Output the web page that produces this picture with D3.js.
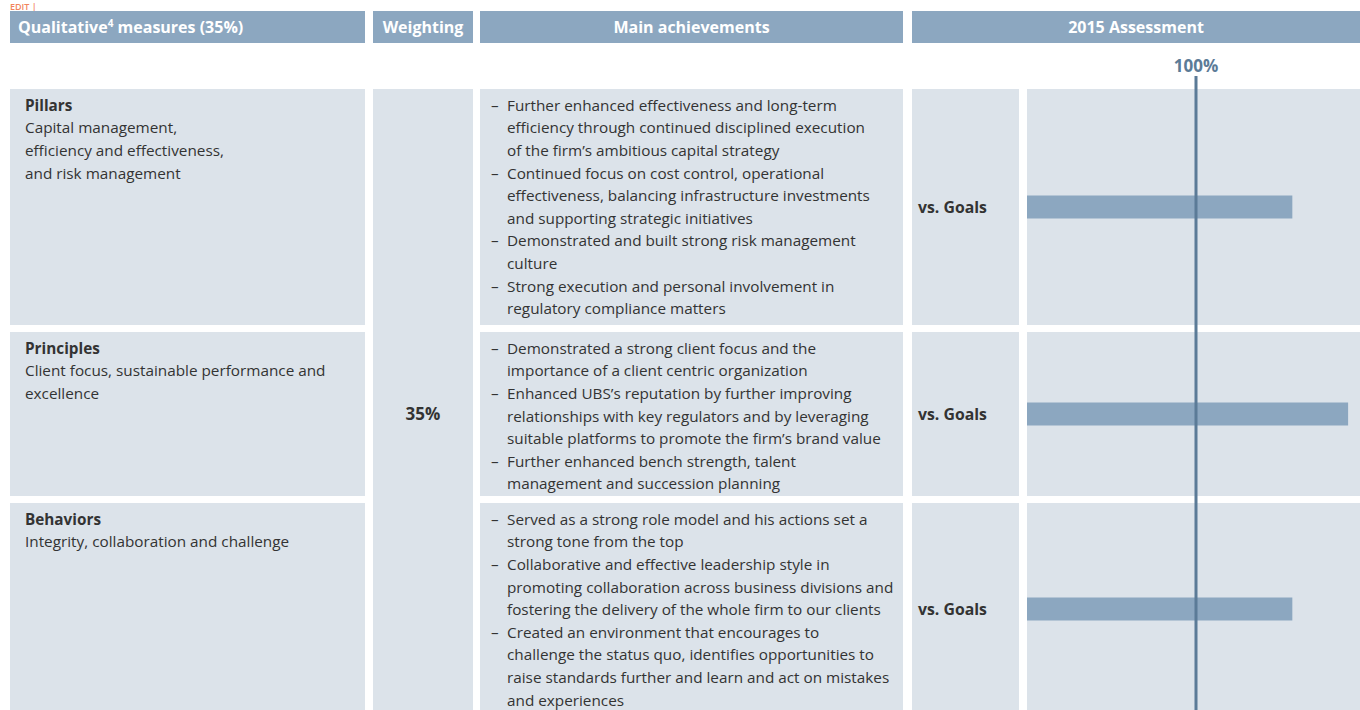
<!DOCTYPE html>
<html><head><meta charset="utf-8">
<script src="https://cdn.jsdelivr.net/npm/d3@7"></script>
<style>
html,body{margin:0;padding:0;background:#fff;overflow:hidden}
svg{display:block;font-family:"Open Sans",sans-serif}
</style></head>
<body><svg id="c" width="1360" height="710"></svg>
<script>
// ---- data ----
const headers = ["Qualitative\u2074 measures (35%)", "Weighting", "Main achievements", "2015 Assessment"];
const categories = ["Pillars", "Principles", "Behaviors"];
const descriptions = [
  ["Capital management,", "efficiency and effectiveness,", "and risk management"],
  ["Client focus, sustainable performance and", "excellence"],
  ["Integrity, collaboration and challenge"]
];
const achievements = [
  [
    ["Further enhanced effectiveness and long-term", "efficiency through continued disciplined execution", "of the firm\u2019s ambitious capital strategy"],
    ["Continued focus on cost control, operational", "effectiveness, balancing infrastructure investments", "and supporting strategic initiatives"],
    ["Demonstrated and built strong risk management", "culture"],
    ["Strong execution and personal involvement in", "regulatory compliance matters"]
  ],
  [
    ["Demonstrated a strong client focus and the", "importance of a client centric organization"],
    ["Enhanced UBS\u2019s reputation by further improving", "relationships with key regulators and by leveraging", "suitable platforms to promote the firm\u2019s brand value"],
    ["Further enhanced bench strength, talent", "management and succession planning"]
  ],
  [
    ["Served as a strong role model and his actions set a", "strong tone from the top"],
    ["Collaborative and effective leadership style in", "promoting collaboration across business divisions and", "fostering the delivery of the whole firm to our clients"],
    ["Created an environment that encourages to", "challenge the status quo, identifies opportunities to", "raise standards further and learn and act on mistakes", "and experiences"]
  ]
];
const weighting = "35%";
const comparisonLabel = "vs. Goals";
const assessment = [157, 190, 157];   // % of goal
const referenceValue = 100;
const referenceLabel = "100%";
const editLabel = "EDIT |";

// ---- style/layout ----
const headBg = "#8ca7c0", cellBg = "#dce3ea", textC = "#333333", refC = "#5b7b97";
const fs = 15.3, lineH = 22.6;
const cols = {c1:[10,365], c2:[373,473], c3:[480,903], c4a:[912,1019], c4b:[1027,1360]};
const svg = d3.select("#c");

svg.append("text").attr("x", 10).attr("y", 10).attr("fill", "#f2845c")
  .attr("font-size", 9).attr("font-weight", 600).text(editLabel);

// header
const headCols = [cols.c1, cols.c2, cols.c3, [cols.c4a[0], cols.c4b[1]]];
headCols.forEach((c, i) => {
  svg.append("rect").attr("x", c[0]).attr("y", 11).attr("width", c[1]-c[0]).attr("height", 32).attr("fill", headBg);
  const t = svg.append("text").attr("y", 27).attr("dy", "0.35em").attr("fill", "#fff")
    .attr("font-weight", 700).attr("font-size", 16);
  if (i === 0) t.attr("x", c[0] + 8);
  else t.attr("x", (c[0]+c[1])/2).attr("text-anchor", "middle");
  if (i === 0) {
    t.append("tspan").text("Qualitative");
    t.append("tspan").attr("font-size", 10).attr("dy", -6).text("4");
    t.append("tspan").attr("dy", 6).text("\u00a0measures (35%)");
  } else t.text(headers[i]);
});

// rows
const nLines = achievements.map(a => d3.sum(a, b => b.length));
const heights = nLines.map(n => 24*n - 4);
const tops = []; let y0 = 89;
heights.forEach(h => { tops.push(y0); y0 += h + 7; });

const x = d3.scaleLinear().domain([0, 200]).range([cols.c4b[0], 1365]);

categories.forEach((cat, i) => {
  const top = tops[i], h = heights[i];
  [cols.c1, cols.c3, cols.c4a, cols.c4b].forEach(c => {
    svg.append("rect").attr("x", c[0]).attr("y", top).attr("width", c[1]-c[0]).attr("height", h).attr("fill", cellBg);
  });
  const first = top + 16.5;
  // col1
  svg.append("text").attr("x", 25).attr("y", first).attr("dy", "0.35em").attr("fill", textC)
    .attr("font-size", fs).attr("font-weight", 700).text(cat);
  descriptions[i].forEach((l, j) => {
    svg.append("text").attr("x", 25).attr("y", first + (j+1)*lineH).attr("dy", "0.35em")
      .attr("fill", textC).attr("font-size", fs).text(l);
  });
  // col3
  let k = 0;
  achievements[i].forEach(b => {
    b.forEach((l, j) => {
      const yy = first + k*lineH;
      if (j === 0) svg.append("text").attr("x", 491).attr("y", yy).attr("dy", "0.35em")
        .attr("fill", textC).attr("font-size", fs).text("\u2013");
      svg.append("text").attr("x", 507).attr("y", yy).attr("dy", "0.35em")
        .attr("fill", textC).attr("font-size", fs).text(l);
      k++;
    });
  });
  // vs goals + bar
  const cy = top + h/2;
  svg.append("text").attr("x", 918).attr("y", cy).attr("dy", "0.35em").attr("fill", textC)
    .attr("font-size", 15.8).attr("font-weight", 700).text(comparisonLabel);
  svg.append("rect").attr("x", x(0)).attr("y", cy - 11.5).attr("width", x(assessment[i]) - x(0))
    .attr("height", 23).attr("fill", headBg);
});

// weighting merged cell
svg.append("rect").attr("x", cols.c2[0]).attr("y", 89).attr("width", cols.c2[1]-cols.c2[0])
  .attr("height", 710-89).attr("fill", cellBg);
svg.append("text").attr("x", (cols.c2[0]+cols.c2[1])/2).attr("y", tops[1] + heights[1]/2).attr("dy", "0.35em")
  .attr("text-anchor", "middle").attr("fill", textC).attr("font-size", 17).attr("font-weight", 700).text(weighting);

// reference line
svg.append("line").attr("x1", x(referenceValue)).attr("x2", x(referenceValue)).attr("y1", 76).attr("y2", 710)
  .attr("stroke", refC).attr("stroke-width", 3);
svg.append("text").attr("x", x(referenceValue)).attr("y", 66).attr("dy", "0.35em").attr("text-anchor", "middle")
  .attr("fill", refC).attr("font-size", 17).attr("font-weight", 700).text(referenceLabel);
</script></body></html>
